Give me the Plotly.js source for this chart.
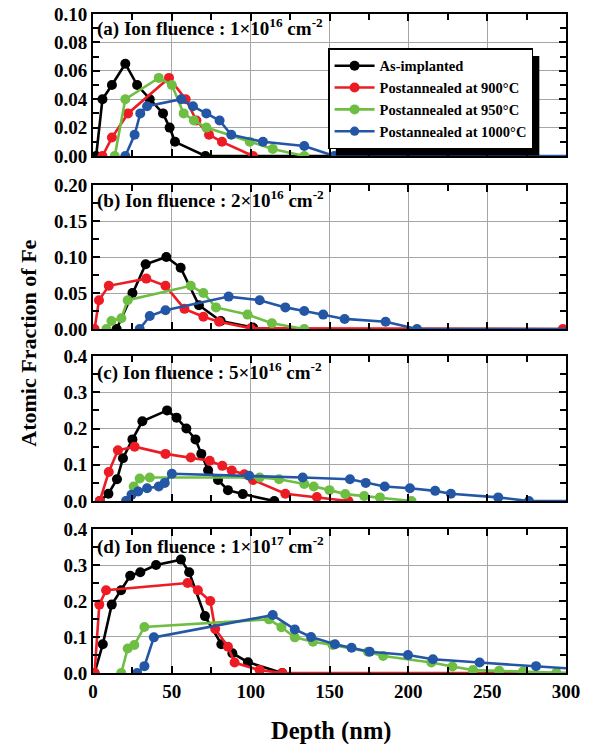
<!DOCTYPE html>
<html>
<head>
<meta charset="utf-8">
<script src="https://cdn.plot.ly/plotly-3.0.1.min.js"></script>
<style>html,body{margin:0;padding:0;background:#fff;}#chart{width:589px;height:744px;}</style>
</head>
<body>
<div id="chart"></div>
<script>
// Series names and colours
const seriesNames = ["As-implanted", "Postannealed at 900°C", "Postannealed at 950°C", "Postannealed at 1000°C"];
const seriesColors = ["#000000", "#ed1c24", "#6fbe44", "#2456a6"];
const panelLabels = [
  "(a) Ion fluence : 1×10<sup>16</sup> cm<sup>-2</sup>",
  "(b) Ion fluence : 2×10<sup>16</sup> cm<sup>-2</sup>",
  "(c) Ion fluence : 5×10<sup>16</sup> cm<sup>-2</sup>",
  "(d) Ion fluence : 1×10<sup>17</sup> cm<sup>-2</sup>"
];
const xTickVals = [0, 50, 100, 150, 200, 250, 300];
const xTickText = ["0", "50", "100", "150", "200", "250", "300"];

// Panel (a) 1e16
const aBlackX = [2, 6, 12, 20.5, 28, 36, 44.4, 48.6, 52, 71.3, 270];
const aBlackY = [0, 0.040, 0.050, 0.065, 0.050, 0.040, 0.030, 0.020, 0.010, 0, 0];
const aRedX = [6, 12, 22.2, 48.2, 58.8, 65.6, 73.6, 81.8, 101.5];
const aRedY = [0, 0.013, 0.030, 0.055, 0.040, 0.025, 0.015, 0.010, 0];
const aGreenX = [13.8, 20.5, 41.7, 50, 57.5, 64, 71.9, 99.4, 114, 134];
const aGreenY = [0, 0.040, 0.055, 0.050, 0.030, 0.025, 0.020, 0.010, 0.005, 0];
const aBlueX = [20.5, 26.4, 30, 34.3, 56, 63.4, 71.9, 80.3, 87.7, 107.8, 134, 153, 300];
const aBlueY = [0, 0.015, 0.030, 0.035, 0.040, 0.035, 0.030, 0.025, 0.015, 0.010, 0.007, 0, 0];

// Panel (b) 2e16
const bBlackX = [15, 25, 33.4, 46.5, 55.6, 67.2, 81, 101.5];
const bBlackY = [0, 0.050, 0.090, 0.100, 0.085, 0.033, 0.011, 0.002];
const bRedX = [1, 3.8, 10, 33.8, 46, 58, 70, 80, 100, 298];
const bRedY = [0, 0.040, 0.060, 0.070, 0.060, 0.028, 0.017, 0.010, 0.001, 0];
const bGreenX = [8.5, 11.7, 18, 22, 62, 70, 78, 98, 113.5, 134];
const bGreenY = [0, 0.011, 0.015, 0.040, 0.060, 0.050, 0.030, 0.020, 0.008, 0];
const bBlueX = [29.6, 36, 46, 86, 105.7, 122, 134, 146, 159.6, 185.6, 205.5, 300];
const bBlueY = [0, 0.018, 0.026, 0.045, 0.040, 0.030, 0.025, 0.020, 0.014, 0.010, 0, 0];

// Panel (c) 5e16
const cBlackX = [4.3, 9.8, 15.2, 19, 25, 31.3, 47, 53, 59.2, 65, 68.7, 73, 79.3, 85.6, 95, 115];
const cBlackY = [0, 0.020, 0.060, 0.118, 0.170, 0.220, 0.250, 0.230, 0.200, 0.170, 0.130, 0.085, 0.058, 0.030, 0.019, 0];
const cRedX = [4.3, 10, 15.8, 26.4, 46, 62, 74, 82, 88, 96, 101.5, 122, 142, 162];
const cRedY = [0, 0.080, 0.140, 0.150, 0.130, 0.120, 0.111, 0.097, 0.084, 0.074, 0.058, 0.020, 0.011, 0];
const cGreenX = [21, 25.8, 29.6, 36, 105.7, 118, 134, 140, 150, 160, 172, 182, 202];
const cGreenY = [0, 0.040, 0.062, 0.065, 0.065, 0.060, 0.047, 0.040, 0.030, 0.019, 0.014, 0.010, 0];
const cBlueX = [21, 24.4, 28.6, 34.3, 41.7, 45.5, 50, 99, 133, 163, 173, 185, 201, 217, 227, 257, 276.5, 300];
const cBlueY = [0, 0.017, 0.026, 0.035, 0.040, 0.050, 0.075, 0.070, 0.065, 0.060, 0.050, 0.040, 0.035, 0.028, 0.020, 0.010, 0, 0];

// Panel (d) 1e17
const dBlackX = [1, 6.2, 11.9, 17.8, 23.6, 30, 40, 55.8, 61, 71, 81.4, 88.4, 98.3, 120];
const dBlackY = [0, 0.080, 0.190, 0.230, 0.270, 0.280, 0.300, 0.315, 0.280, 0.158, 0.080, 0.055, 0.030, 0];
const dRedX = [1, 4, 8.3, 60, 66.5, 74.4, 77.5, 85.6, 89.8, 105.7, 120, 300];
const dRedY = [0, 0.190, 0.230, 0.250, 0.230, 0.200, 0.122, 0.073, 0.029, 0.008, 0, 0];
const dGreenX = [17.9, 22, 26.2, 32.6, 111.6, 119.5, 128, 139.5, 152, 174.4, 184, 214.6, 228, 241, 257.6, 272.7, 293.9, 300];
const dGreenY = [0, 0.068, 0.078, 0.128, 0.149, 0.127, 0.099, 0.087, 0.078, 0.059, 0.047, 0.029, 0.018, 0.008, 0.006, 0.004, 0.001, 0];
const dBlueX = [28, 32.6, 38.6, 114, 128, 138.3, 153.5, 164, 175.5, 199.8, 215.6, 245.2, 281, 300];
const dBlueY = [0, 0.019, 0.099, 0.161, 0.121, 0.100, 0.080, 0.070, 0.059, 0.050, 0.038, 0.029, 0.019, 0.013];

const panels = [
  [[aBlackX, aBlackY], [aRedX, aRedY], [aGreenX, aGreenY], [aBlueX, aBlueY]],
  [[bBlackX, bBlackY], [bRedX, bRedY], [bGreenX, bGreenY], [bBlueX, bBlueY]],
  [[cBlackX, cBlackY], [cRedX, cRedY], [cGreenX, cGreenY], [cBlueX, cBlueY]],
  [[dBlackX, dBlackY], [dRedX, dRedY], [dGreenX, dGreenY], [dBlueX, dBlueY]]
];
const yRanges = [[0, 0.10], [0, 0.20], [0, 0.4], [0, 0.4]];
const yDticks = [0.02, 0.05, 0.1, 0.1];
const yFormats = [".2f", ".2f", ".1f", ".1f"];

// Layout geometry (paper fractions), top panel first
const domains = [[0.7845, 1.0], [0.522, 0.7405], [0.261, 0.481], [0, 0.2185]];
const labelY = [0.980, 0.718, 0.457, 0.194];

const FONT = "Liberation Serif, Times New Roman, serif";
const MARKER = 10;
const traces = [];
const layout = {
  width: 589, height: 744,
  margin: {l: 93, r: 23, t: 14, b: 71},
  paper_bgcolor: "#fff", plot_bgcolor: "#fff",
  font: {family: FONT, color: "#000", size: 16, weight: "bold"},
  showlegend: true,
  legend: {
    x: 0.497, xanchor: "left", y: 0.948, yanchor: "top",
    bgcolor: "#fff", bordercolor: "#000", borderwidth: 1.5,
    font: {family: FONT, size: 14.5, color: "#000", weight: "bold"},
    tracegroupgap: 0, itemwidth: 40
  },
  annotations: [],
  shapes: []
};

for (let p = 0; p < 4; p++) {
  const idx = 4 - p; // (a)->4, (b)->3, (c)->2, (d)->1
  const xs = idx === 1 ? "" : String(idx);
  const xName = "xaxis" + xs, yName = "yaxis" + xs;
  for (let s = 0; s < 4; s++) {
    const xv = panels[p][s][0];
    traces.push({
      type: "scatter", mode: "lines+markers",
      x: xv, y: panels[p][s][1],
      xaxis: "x" + xs, yaxis: "y" + xs,
      name: seriesNames[s],
      showlegend: p === 0,
      line: {color: seriesColors[s], width: 2.6},
      // the line runs on to the frame edge; no dot is drawn at the edge itself
      marker: {
        color: seriesColors[s], opacity: 1, symbol: "circle",
        size: xv.map(v => v >= 300 ? 0 : MARKER),
        line: {width: 0}
      }
    });
  }
  layout[xName] = {
    domain: [0, 1], anchor: "y" + xs, range: [0, 300],
    tickmode: "array", tickvals: xTickVals, ticktext: xTickText,
    showticklabels: idx === 1,
    ticks: "inside", ticklen: 7, tickwidth: 2, tickcolor: "#000",
    minor: {dtick: 25, ticks: "inside", ticklen: 6, tickwidth: 2, tickcolor: "#000", showgrid: false, tick0: 0},
    showgrid: true, gridcolor: "#a6a6a6", gridwidth: 1,
    showline: true, linecolor: "#000", linewidth: 2, mirror: "allticks",
    zeroline: false,
    tickfont: {family: FONT, size: 19, color: "#000", weight: "bold"}
  };
  layout[yName] = {
    domain: domains[p], anchor: "x" + xs, range: yRanges[p],
    tickmode: "linear", tick0: 0, dtick: yDticks[p], tickformat: yFormats[p],
    ticks: "inside", ticklen: 7, tickwidth: 2, tickcolor: "#000",
    minor: {dtick: yDticks[p] / 2, ticks: "inside", ticklen: 6, tickwidth: 2, tickcolor: "#000", showgrid: false},
    showgrid: true, gridcolor: "#a6a6a6", gridwidth: 1,
    showline: true, linecolor: "#000", linewidth: 2, mirror: "allticks",
    zeroline: false,
    tickfont: {family: FONT, size: 19, color: "#000", weight: "bold"}
  };
  layout.annotations.push({
    xref: "paper", yref: "paper", x: 0.004, y: labelY[p],
    xanchor: "left", yanchor: "middle", showarrow: false,
    text: panelLabels[p],
    font: {family: FONT, size: 19, color: "#000", weight: "bold"}
  });
}

layout.annotations.push({
  xref: "paper", yref: "paper", x: -0.137, y: 0.50, xanchor: "center", yanchor: "middle",
  textangle: -90, showarrow: false, text: "Atomic Fraction of Fe",
  font: {family: FONT, size: 22, color: "#000", weight: "bold"}
});
layout.annotations.push({
  xref: "paper", yref: "paper", x: 0.503, y: -0.088, xanchor: "center", yanchor: "middle",
  showarrow: false, text: "Depth (nm)",
  font: {family: FONT, size: 24.5, color: "#000", weight: "bold"}
});

// legend drop shadow (initial guess, refined from the drawn legend box)
layout.shapes.push({
  type: "rect", xref: "paper", yref: "paper", layer: "above",
  x0: 0.5116, x1: 0.9725, y0: 0.8103, y1: 0.9347,
  fillcolor: "#000", line: {width: 0}
});

Plotly.newPlot("chart", traces, layout, {staticPlot: true, displayModeBar: false}).then(function (gd) {
  const bg = gd.querySelector(".legend .bg");
  if (!bg) return;
  const r = bg.getBoundingClientRect();
  const c = gd.getBoundingClientRect();
  const fl = gd._fullLayout._size;
  const off = 7;
  const toPx = (px) => (px - c.left - fl.l) / fl.w;
  const toPy = (py) => 1 - (py - c.top - fl.t) / fl.h;
  return Plotly.relayout(gd, {
    "shapes[0].x0": toPx(r.left + off), "shapes[0].x1": toPx(r.right + off),
    "shapes[0].y0": toPy(r.bottom + off), "shapes[0].y1": toPy(r.top + off)
  });
});
</script>
</body>
</html>
